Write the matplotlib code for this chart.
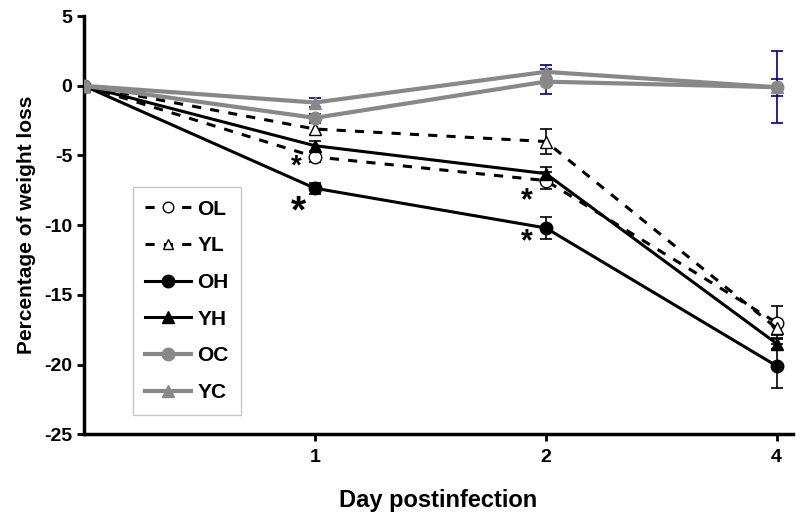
import matplotlib
matplotlib.use("Agg")
import matplotlib.pyplot as plt
from matplotlib.lines import Line2D

plt.rcParams['font.family'] = ['Liberation Sans', 'DejaVu Sans']
plt.rcParams['axes.unicode_minus'] = False

days = ["0", "1", "2", "4"]
xpos = [0, 1, 2, 3]

OL = [0, -5.1, -6.8, -17.0]
OL_err = [0, 0.35, 0.6, 1.2]
YL = [0, -3.1, -4.0, -17.4]
YL_err = [0, 0.4, 0.9, 0.5]
OH = [0, -7.35, -10.2, -20.1]
OH_err = [0, 0.4, 0.8, 1.6]
YH = [0, -4.3, -6.3, -18.5]
YH_err = [0, 0.35, 0.5, 0.4]
OC = [0, -2.3, 0.3, -0.1]
OC_err = [0, 0.3, 0.9, 2.6]
YC = [0, -1.2, 1.0, -0.1]
YC_err = [0, 0.3, 0.5, 0.6]

stars = [(0.92, -5.8, 20), (0.93, -9.1, 28), (1.92, -8.3, 22), (1.92, -11.2, 22)]

fig = plt.figure(figsize=(8, 5.2), dpi=100)
ax = fig.add_axes([0.105, 0.165, 0.886, 0.804])

gray = '#888888'
navy = '#000080'
dash = (0, (3, 3))

series = [
    (OL, OL_err, 'black', dash, 'o', 'white', 'OL', 'black', 2.2, 9),
    (YL, YL_err, 'black', dash, '^', 'white', 'YL', 'black', 2.2, 8.5),
    (OH, OH_err, 'black', '-', 'o', 'black', 'OH', 'black', 2.2, 9),
    (YH, YH_err, 'black', '-', '^', 'black', 'YH', 'black', 2.2, 8.5),
    (OC, OC_err, gray, '-', 'o', gray, 'OC', navy, 3, 9),
    (YC, YC_err, gray, '-', '^', gray, 'YC', navy, 3, 8.5),
]

handles = []
for y, err, color, ls, mk, mfc, label, ecol, lw, ms in series:
    mec = 'black' if color == 'black' else color
    ax.errorbar(xpos, y, yerr=err, color=color, ls=ls, lw=lw, marker=mk,
                mfc=mfc, mec=mec, ms=ms, ecolor=ecol, elinewidth=1.2, capsize=4,
                capthick=1.2, zorder=3)
    lms = ms * 0.85 if mfc == 'white' else ms
    handles.append(Line2D([], [], color=color, ls=ls, lw=lw, marker=mk, mfc=mfc,
                          mec=mec, ms=lms, label=label))

for sx, sy, fs in stars:
    ax.text(sx, sy, '*', fontsize=fs, fontweight='bold', ha='center', va='center')

ax.set_xlim(0, 3.07)
ax.set_ylim(-25, 5)
ax.set_xticks(xpos[1:])
ax.set_xticklabels(days[1:])
ax.set_yticks(range(-25, 6, 5))
for s in ['top', 'right']:
    ax.spines[s].set_visible(False)
for s in ['left', 'bottom']:
    ax.spines[s].set_linewidth(2.5)
ax.tick_params(axis='both', direction='out', width=2, length=5, labelsize=14)
ax.tick_params(axis='x', pad=6)
for lab in ax.get_xticklabels() + ax.get_yticklabels():
    lab.set_fontweight('bold')

ax.set_xlabel('Day postinfection', fontsize=17, fontweight='bold', labelpad=16)
ax.set_ylabel('Percentage of weight loss', fontsize=15, fontweight='bold', labelpad=6)

leg = ax.legend(handles=handles, loc='upper left', bbox_to_anchor=(0.069, 0.591),
                frameon=True, fancybox=False, edgecolor='#bbbbbb',
                prop={'weight': 'bold', 'size': 15}, handlelength=2.2,
                labelspacing=0.85, borderpad=0.6, handletextpad=0.3,
                borderaxespad=0)
leg.get_frame().set_linewidth(1)

fig.savefig('out.png', dpi=100)
